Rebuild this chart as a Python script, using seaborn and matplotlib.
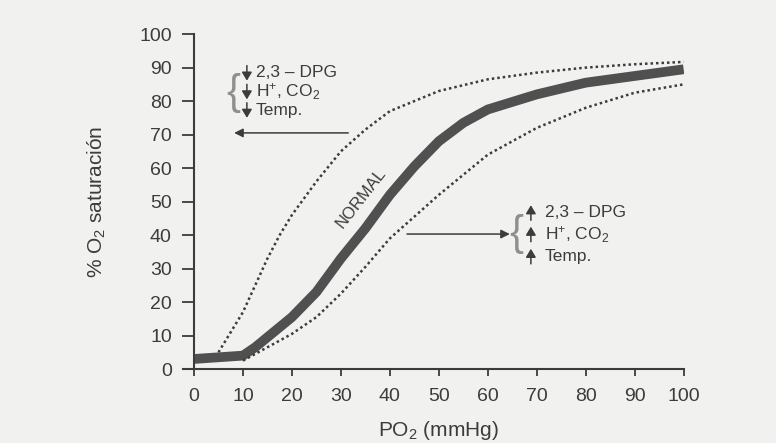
import numpy as np
import pandas as pd
import matplotlib
matplotlib.use("Agg")
import matplotlib.pyplot as plt
import seaborn as sns

# ----- curve values (PO2 in mmHg, saturation in %) -----
normal_x = [0, 5, 10, 12.5, 15, 20, 25, 30, 35, 40, 45, 50, 55, 60, 70, 80, 90, 100]
normal_y = [3, 3.5, 4, 6.5, 9.5, 15.5, 23, 33, 42, 52, 60.5, 68, 73.5, 77.5, 82, 85.5, 87.5, 89.5]

left_x = [5, 7.5, 10, 12.5, 15, 17.5, 20, 25, 30, 35, 40, 50, 60, 70, 80, 90, 100]
left_y = [5, 11, 17, 25, 33, 40, 46, 56, 65, 71.5, 77, 83, 86.5, 88.5, 90, 91, 91.7]

right_x = [10, 15, 20, 25, 30, 35, 40, 45, 50, 60, 70, 80, 90, 100]
right_y = [2.5, 6.5, 10.5, 15.5, 22.5, 30.5, 39, 45.5, 52, 64, 72, 78, 82.5, 85]

ticks = list(range(0, 101, 10))
left_labels = ["2,3 – DPG", "H$^{+}$, CO$_{2}$", "Temp."]
right_labels = ["2,3 – DPG", "H$^{+}$, CO$_{2}$", "Temp."]

sns.set_style("ticks")
plt.rcParams["font.family"] = ["Liberation Sans", "DejaVu Sans"]
plt.rcParams["mathtext.default"] = "regular"

bg = "#f1f1ef"
ink = "#3c3c3c"
curve = "#505050"

fig = plt.figure(figsize=(7.76, 4.43), dpi=100, facecolor=bg)
ax = fig.add_axes([0.25, 0.167, 0.631, 0.756], facecolor=bg)

df_n = pd.DataFrame({"x": normal_x, "y": normal_y})
df_l = pd.DataFrame({"x": left_x, "y": left_y})
df_r = pd.DataFrame({"x": right_x, "y": right_y})

sns.lineplot(data=df_n, x="x", y="y", ax=ax, color=curve, lw=7,
             solid_capstyle="butt", solid_joinstyle="round")
sns.lineplot(data=df_l, x="x", y="y", ax=ax, color=ink, lw=1.8, ls=(0, (1, 1.2)))
sns.lineplot(data=df_r, x="x", y="y", ax=ax, color=ink, lw=1.8, ls=(0, (1, 1.2)))

ax.set_xlim(0, 100)
ax.set_ylim(0, 100)
ax.set_xticks(ticks)
ax.set_yticks(ticks)
ax.tick_params(axis="y", length=9, width=1.3, pad=7, labelsize=14, colors=ink)
ax.tick_params(axis="x", length=5, width=1.3, pad=9, labelsize=14, colors=ink)
for s in ["top", "right"]:
    ax.spines[s].set_visible(False)
for s in ["left", "bottom"]:
    ax.spines[s].set_color(ink)
    ax.spines[s].set_linewidth(1.5)
ax.spines["bottom"].set_bounds(-2.2, 100)

ax.set_xlabel("PO$_2$ (mmHg)", fontsize=15, color=ink, labelpad=10)
ax.set_ylabel("% O$_2$ saturación", fontsize=15, color=ink)
ax.yaxis.set_label_coords(-0.175, 0.5)

# ----- NORMAL label along the curve -----
ax.text(34, 51, "NORMAL", rotation=52, fontsize=12, color=ink,
        ha="center", va="center")

small_arrow = dict(arrowstyle="-|>,head_length=0.5,head_width=0.3", color=ink,
                   lw=1.1, mutation_scale=10, shrinkA=0, shrinkB=0)

# ----- left annotation (shift to the left) -----
ax.annotate("", xy=(8.2, 70.5), xytext=(31.5, 70.5),
            arrowprops=dict(arrowstyle="-|>", color=ink, lw=1.1,
                            mutation_scale=13, shrinkA=0, shrinkB=0))
ax.text(8.1, 82.3, "{", fontsize=30, color="#8f8f8f", ha="center",
        va="center")
for yy, lab in zip([88.4, 82.8, 77.3], left_labels):
    ax.annotate("", xy=(10.8, yy - 2.3), xytext=(10.8, yy + 2.2),
                arrowprops=small_arrow)
    ax.text(12.6, yy, lab, fontsize=12.5, color=ink, ha="left", va="center")

# ----- right annotation (shift to the right) -----
ax.annotate("", xy=(64.5, 40.3), xytext=(43.5, 40.3),
            arrowprops=dict(arrowstyle="-|>", color=ink, lw=1.1,
                            mutation_scale=13, shrinkA=0, shrinkB=0))
ax.text(65.8, 40.2, "{", fontsize=30, color="#8f8f8f", ha="center",
        va="center")
for yy, lab in zip([46.6, 40.2, 33.6], right_labels):
    ax.annotate("", xy=(68.8, yy + 2.3), xytext=(68.8, yy - 2.2),
                arrowprops=small_arrow)
    ax.text(71.6, yy, lab, fontsize=12.5, color=ink, ha="left", va="center")

fig.savefig("out.png", dpi=100, facecolor=bg)
